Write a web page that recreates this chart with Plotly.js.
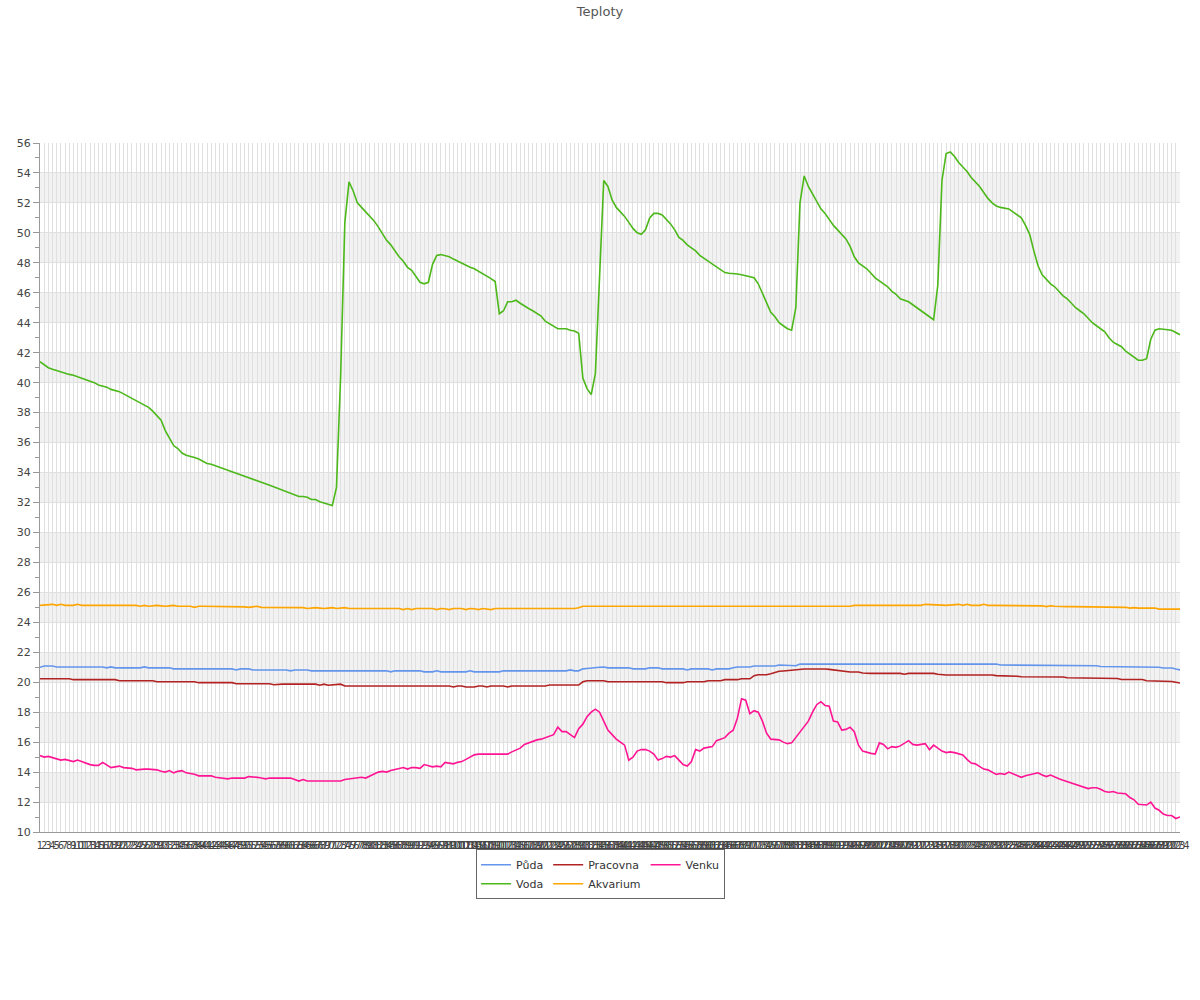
<!DOCTYPE html>
<html>
<head>
<meta charset="utf-8">
<script src="https://cdn.plot.ly/plotly-3.0.1.min.js"></script>
<style>html,body{margin:0;padding:0;background:#fff;}#chart{width:1200px;height:1000px;}</style>
</head>
<body>
<div id="chart"></div>
<script>
var categories = [
1,2,3,4,5,6,7,8,9,10,11,12,13,14,15,16,17,18,19,20,
21,22,23,24,25,26,27,28,29,30,31,32,33,34,35,36,37,38,39,40,
41,42,43,44,45,46,47,48,49,50,51,52,53,54,55,56,57,58,59,60,
61,62,63,64,65,66,67,68,69,70,71,72,73,74,75,76,77,78,79,80,
81,82,83,84,85,86,87,88,89,90,91,92,93,94,95,96,97,98,99,100,
101,102,103,104,105,106,107,108,109,110,111,112,113,114,115,116,117,118,119,120,
121,122,123,124,125,126,127,128,129,130,131,132,133,134,135,136,137,138,139,140,
141,142,143,144,145,146,147,148,149,150,151,152,153,154,155,156,157,158,159,160,
161,162,163,164,165,166,167,168,169,170,171,172,173,174,175,176,177,178,179,180,
181,182,183,184,185,186,187,188,189,190,191,192,193,194,195,196,197,198,199,200,
201,202,203,204,205,206,207,208,209,210,211,212,213,214,215,216,217,218,219,220,
221,222,223,224,225,226,227,228,229,230,231,232,233,234,235,236,237,238,239,240,
241,242,243,244,245,246,247,248,249,250,251,252,253,254,255,256,257,258,259,260,
261,262,263,264,265,266,267,268,269,270,271,272,273,274
].map(String);

var puda = [
21.0,21.08,21.08,21.08,21.02,21.02,21.02,21.02,21.02,21.02,
21.02,21.02,21.02,21.02,21.02,21.02,20.96,21.02,20.96,20.96,
20.96,20.96,20.96,20.96,20.96,21.02,20.96,20.96,20.96,20.96,
20.96,20.96,20.89,20.89,20.89,20.89,20.89,20.89,20.89,20.89,
20.89,20.89,20.89,20.89,20.89,20.89,20.89,20.82,20.89,20.89,
20.89,20.82,20.82,20.82,20.82,20.82,20.82,20.82,20.82,20.82,
20.76,20.82,20.82,20.82,20.82,20.76,20.76,20.76,20.76,20.76,
20.76,20.76,20.76,20.76,20.76,20.76,20.76,20.76,20.76,20.76,
20.76,20.76,20.76,20.76,20.69,20.76,20.76,20.76,20.76,20.76,
20.76,20.76,20.69,20.69,20.69,20.76,20.69,20.69,20.69,20.69,
20.69,20.69,20.69,20.76,20.69,20.69,20.69,20.69,20.69,20.69,
20.69,20.76,20.76,20.76,20.76,20.76,20.76,20.76,20.76,20.76,
20.76,20.76,20.76,20.76,20.76,20.76,20.76,20.82,20.76,20.76,
20.89,20.92,20.96,20.99,21.0,21.02,20.96,20.96,20.96,20.96,
20.96,20.96,20.89,20.89,20.89,20.89,20.96,20.96,20.96,20.89,
20.89,20.89,20.89,20.89,20.89,20.82,20.89,20.89,20.89,20.89,
20.89,20.82,20.89,20.89,20.89,20.89,20.96,21.02,21.02,21.02,
21.02,21.08,21.08,21.08,21.08,21.08,21.08,21.15,21.15,21.1,
21.1,21.1,21.21,21.21,21.21,21.21,21.21,21.21,21.21,21.21,
21.21,21.21,21.21,21.21,21.21,21.21,21.21,21.21,21.21,21.21,
21.21,21.21,21.21,21.21,21.21,21.21,21.21,21.21,21.21,21.21,
21.21,21.21,21.21,21.21,21.21,21.21,21.21,21.21,21.21,21.21,
21.21,21.21,21.21,21.21,21.21,21.21,21.21,21.21,21.21,21.21,
21.15,21.15,21.15,21.15,21.15,21.15,21.15,21.15,21.15,21.15,
21.15,21.15,21.15,21.15,21.15,21.1,21.1,21.1,21.1,21.1,
21.1,21.1,21.1,21.1,21.05,21.05,21.05,21.05,21.05,21.05,
21.05,21.05,21.0,21.0,21.0,21.0,21.0,21.0,21.0,20.95,
20.95,20.95,20.88,20.82
];

var voda = [
41.4,41.2,41.0,40.9,40.8,40.7,40.6,40.55,40.5,40.4,
40.3,40.2,40.15,40.0,39.85,39.8,39.7,39.55,39.5,39.4,
39.25,39.1,38.95,38.8,38.6,38.45,38.35,38.1,37.8,37.5,
36.8,36.3,35.8,35.6,35.3,35.15,35.1,35.0,34.9,34.75,
34.6,34.55,34.45,34.3,34.2,34.1,34.0,33.9,33.8,33.7,
33.6,33.5,33.45,33.35,33.25,33.15,33.05,32.95,32.8,32.75,
32.65,32.5,32.4,32.4,32.35,32.2,32.2,32.05,31.95,31.85,
31.8,33.0,40.5,50.7,53.4,52.8,52.0,51.7,51.4,51.1,
50.8,50.4,49.9,49.5,49.2,48.8,48.4,48.1,47.7,47.5,
47.1,46.7,46.6,46.7,47.9,48.5,48.55,48.5,48.4,48.25,
48.1,47.95,47.85,47.7,47.6,47.45,47.3,47.15,46.95,46.75,
44.6,44.8,45.4,45.4,45.5,45.3,45.1,44.95,44.8,44.6,
44.45,44.1,43.95,43.75,43.6,43.6,43.6,43.5,43.45,43.3,
40.3,39.6,39.2,40.6,47.0,53.5,53.1,52.2,51.7,51.4,
51.1,50.7,50.3,50.0,49.9,50.2,51.0,51.3,51.3,51.2,
50.9,50.6,50.2,49.7,49.5,49.2,49.0,48.8,48.5,48.3,
48.1,47.9,47.7,47.5,47.35,47.3,47.3,47.25,47.2,47.15,
47.1,47.0,46.6,46.0,45.3,44.7,44.4,44.0,43.8,43.6,
43.5,45.0,52.0,53.8,53.1,52.6,52.1,51.6,51.3,50.9,
50.5,50.2,49.9,49.6,49.1,48.4,48.0,47.8,47.6,47.3,
47.0,46.8,46.6,46.4,46.1,45.9,45.6,45.5,45.4,45.2,
45.0,44.8,44.6,44.4,44.2,46.5,53.5,55.3,55.4,55.1,
54.7,54.4,54.1,53.7,53.4,53.1,52.7,52.3,52.0,51.8,
51.7,51.65,51.6,51.4,51.2,51.0,50.5,49.9,48.8,47.8,
47.2,46.9,46.6,46.4,46.1,45.8,45.6,45.3,45.0,44.8,
44.6,44.3,44.0,43.8,43.6,43.4,43.0,42.7,42.55,42.4,
42.1,41.9,41.7,41.5,41.5,41.6,42.9,43.5,43.6,43.55,
43.55,43.5,43.35,43.2
];

var pracovna = [
20.23,20.23,20.23,20.23,20.23,20.23,20.23,20.23,20.17,20.17,
20.17,20.17,20.17,20.17,20.17,20.17,20.17,20.17,20.17,20.1,
20.1,20.1,20.1,20.1,20.1,20.1,20.1,20.1,20.03,20.03,
20.03,20.03,20.03,20.03,20.03,20.03,20.03,20.03,19.97,19.97,
19.97,19.97,19.97,19.97,19.97,19.97,19.97,19.9,19.9,19.9,
19.9,19.9,19.9,19.9,19.9,19.9,19.83,19.87,19.87,19.87,
19.87,19.87,19.87,19.87,19.87,19.87,19.87,19.8,19.87,19.8,
19.82,19.82,19.87,19.75,19.75,19.75,19.75,19.75,19.75,19.75,
19.75,19.75,19.75,19.75,19.75,19.75,19.75,19.75,19.75,19.75,
19.75,19.75,19.75,19.75,19.75,19.71,19.75,19.75,19.75,19.68,
19.75,19.75,19.68,19.68,19.68,19.75,19.75,19.68,19.75,19.75,
19.75,19.75,19.68,19.75,19.75,19.75,19.75,19.75,19.75,19.75,
19.75,19.75,19.81,19.81,19.81,19.81,19.81,19.81,19.81,19.81,
20.03,20.1,20.1,20.1,20.1,20.1,20.03,20.03,20.03,20.03,
20.03,20.03,20.03,20.03,20.03,20.03,20.03,20.03,20.03,20.03,
19.97,19.97,19.97,19.97,19.97,20.03,20.03,20.03,20.03,20.03,
20.1,20.1,20.1,20.1,20.17,20.17,20.17,20.17,20.23,20.23,
20.23,20.44,20.5,20.5,20.5,20.57,20.65,20.73,20.75,20.78,
20.81,20.84,20.88,20.88,20.88,20.88,20.92,20.9,20.88,20.86,
20.82,20.78,20.75,20.7,20.68,20.68,20.68,20.62,20.59,20.59,
20.59,20.59,20.59,20.59,20.59,20.59,20.59,20.53,20.59,20.59,
20.59,20.59,20.59,20.59,20.59,20.53,20.48,20.48,20.48,20.48,
20.48,20.48,20.48,20.48,20.48,20.48,20.48,20.53,20.48,20.44,
20.44,20.44,20.44,20.4,20.4,20.37,20.37,20.37,20.35,20.35,
20.35,20.35,20.35,20.35,20.35,20.35,20.3,20.3,20.3,20.3,
20.3,20.3,20.3,20.25,20.25,20.25,20.25,20.25,20.25,20.18,
20.18,20.18,20.18,20.18,20.18,20.1,20.1,20.1,20.1,20.1,
20.1,20.05,20.0,19.95
];

var akvarium = [
25.13,25.16,25.2,25.2,25.13,25.2,25.13,25.13,25.13,25.2,
25.13,25.13,25.13,25.13,25.13,25.13,25.13,25.13,25.13,25.13,
25.13,25.13,25.13,25.13,25.07,25.13,25.07,25.1,25.13,25.1,
25.07,25.1,25.13,25.07,25.07,25.07,25.07,25.0,25.07,25.07,
25.07,25.07,25.07,25.07,25.07,25.07,25.07,25.07,25.07,25.03,
25.0,25.03,25.07,25.0,25.0,25.0,25.0,24.99,24.98,24.98,
24.98,24.98,24.98,24.98,24.92,24.95,24.98,24.95,24.92,24.95,
24.98,24.92,24.95,24.98,24.92,24.92,24.92,24.92,24.92,24.92,
24.92,24.92,24.92,24.92,24.92,24.92,24.92,24.85,24.92,24.85,
24.92,24.92,24.92,24.92,24.92,24.85,24.92,24.9,24.85,24.92,
24.92,24.92,24.85,24.92,24.9,24.85,24.92,24.9,24.85,24.92,
24.92,24.92,24.92,24.92,24.92,24.92,24.92,24.92,24.92,24.92,
24.92,24.92,24.92,24.9,24.88,24.92,24.9,24.88,24.92,24.97,
25.07,25.07,25.07,25.07,25.07,25.07,25.07,25.07,25.07,25.07,
25.07,25.07,25.07,25.07,25.07,25.07,25.07,25.07,25.07,25.07,
25.07,25.07,25.07,25.07,25.07,25.07,25.07,25.07,25.07,25.07,
25.07,25.07,25.07,25.07,25.07,25.07,25.07,25.07,25.07,25.07,
25.07,25.07,25.07,25.07,25.07,25.07,25.07,25.07,25.07,25.07,
25.07,25.07,25.07,25.07,25.07,25.07,25.11,25.07,25.09,25.07,
25.11,25.07,25.11,25.09,25.07,25.13,25.13,25.13,25.13,25.13,
25.13,25.13,25.13,25.13,25.13,25.13,25.13,25.13,25.13,25.13,
25.13,25.13,25.2,25.2,25.2,25.2,25.15,25.13,25.17,25.2,
25.2,25.13,25.2,25.13,25.13,25.13,25.2,25.13,25.13,25.13,
25.13,25.13,25.13,25.13,25.13,25.13,25.13,25.13,25.1,25.1,
25.1,25.05,25.1,25.07,25.05,25.05,25.05,25.05,25.05,25.05,
25.0,25.05,25.0,25.0,25.0,25.0,25.0,25.0,25.0,25.0,
25.0,24.95,24.98,24.95,24.95,24.95,24.95,24.95,24.88,24.88,
24.88,24.88,24.88,24.88
];

var venku = [
15.1,15.0,15.05,14.95,14.85,14.8,14.85,14.75,14.7,14.8,
14.7,14.55,14.5,14.45,14.45,14.65,14.5,14.3,14.35,14.4,
14.3,14.3,14.25,14.15,14.2,14.2,14.2,14.2,14.15,14.05,
14.0,14.1,13.95,14.05,14.1,13.95,13.9,13.85,13.75,13.75,
13.7,13.75,13.65,13.6,13.6,13.55,13.6,13.6,13.6,13.6,
13.7,13.7,13.65,13.6,13.55,13.6,13.6,13.65,13.6,13.6,
13.6,13.5,13.4,13.5,13.4,13.4,13.4,13.35,13.35,13.4,
13.4,13.4,13.4,13.5,13.55,13.55,13.6,13.65,13.6,13.75,
13.9,14.0,14.05,14.0,14.1,14.15,14.2,14.3,14.2,14.3,
14.3,14.25,14.5,14.4,14.35,14.4,14.35,14.65,14.6,14.55,
14.65,14.7,14.85,15.0,15.15,15.2,15.2,15.2,15.15,15.2,
15.2,15.2,15.2,15.35,15.45,15.6,15.85,15.95,16.1,16.15,
16.2,16.3,16.4,16.5,17.0,16.7,16.7,16.5,16.3,16.9,
17.2,17.7,18.0,18.2,18.0,17.4,16.8,16.5,16.2,16.0,
15.8,14.8,15.0,15.4,15.5,15.5,15.4,15.2,14.8,14.9,
15.05,15.0,15.1,14.8,14.5,14.4,14.7,15.5,15.4,15.6,
15.65,15.7,16.1,16.2,16.3,16.6,16.8,17.6,18.9,18.8,
17.9,18.1,18.0,17.4,16.6,16.2,16.2,16.15,16.0,15.9,
15.95,16.3,16.7,17.0,17.4,18.0,18.5,18.7,18.45,18.4,
17.4,17.35,16.8,16.85,17.0,16.7,15.8,15.4,15.3,15.25,
15.2,15.95,15.85,15.55,15.7,15.65,15.75,15.9,16.1,15.85,
15.8,15.85,15.9,15.5,15.8,15.6,15.4,15.3,15.35,15.3,
15.25,15.15,14.85,14.6,14.55,14.4,14.2,14.15,14.0,13.85,
13.9,13.85,14.0,13.9,13.8,13.65,13.75,13.8,13.85,13.95,
13.8,13.7,13.8,13.65,13.55,13.45,13.35,13.3,13.2,13.1,
12.95,12.9,12.95,12.95,12.85,12.7,12.65,12.7,12.6,12.6,
12.55,12.3,12.15,11.85,11.8,11.8,12.0,11.6,11.45,11.2,
11.1,11.1,10.9,11.0
];

var seriesNames = ['Půda', 'Voda', 'Pracovna', 'Akvarium', 'Venku'];
var seriesColors = ['#6495ed', '#4cb81a', '#b22222', '#ffa500', '#ff1493'];
var seriesGroups = ['a', 'a', 'b', 'b', 'c'];
var seriesData = [puda, voda, pracovna, akvarium, venku];

var traces = seriesData.map(function (ys, k) {
  return {
    type: 'scatter',
    mode: 'lines',
    name: seriesNames[k],
    x: categories,
    y: ys,
    legendgroup: seriesGroups[k],
    line: {color: seriesColors[k], width: 1.6}
  };
});

var yMin = 10, yMax = 56, yStep = 2;
var shapes = [];
for (var v = yMin + yStep; v < yMax; v += 2 * yStep) {
  shapes.push({
    type: 'rect', xref: 'paper', yref: 'y', x0: 0, x1: 1, y0: v, y1: v + yStep,
    fillcolor: '#f2f2f2', line: {width: 0}, layer: 'below'
  });
}

var font = 'DejaVu Sans, sans-serif';
var layout = {
  width: 1200, height: 1000,
  margin: {l: 40, r: 20, t: 143, b: 168, pad: 0},
  paper_bgcolor: '#ffffff', plot_bgcolor: '#ffffff',
  font: {family: font, size: 11, color: '#444'},
  title: {text: 'Teploty', x: 0.5, xref: 'container', xanchor: 'center',
          y: 0.989, yref: 'container', yanchor: 'middle',
          font: {family: font, size: 13, color: '#555'}},
  showlegend: true,
  legend: {
    orientation: 'h', traceorder: 'grouped',
    x: 0.4917, xanchor: 'center', y: -0.025, yanchor: 'top',
    bordercolor: '#666', borderwidth: 1, bgcolor: '#ffffff',
    font: {family: font, size: 11, color: '#333'},
    tracegroupgap: 0
  },
  xaxis: {
    type: 'category', range: [0, categories.length - 1],
    tickmode: 'linear', tick0: 0, dtick: 1, tickangle: 0,
    showgrid: true, gridcolor: '#e0e0e0', gridwidth: 1,
    showline: true, linecolor: '#999', linewidth: 1,
    ticks: '', zeroline: false, automargin: false,
    ticklabelstandoff: 4,
    tickfont: {family: font, size: 10, color: '#444'}
  },
  yaxis: {
    range: [yMin, yMax], tickmode: 'linear', tick0: yMin, dtick: yStep,
    ticks: 'outside', ticklen: 6, tickcolor: '#999', tickwidth: 1,
    showline: true, linecolor: '#999', linewidth: 1,
    showgrid: true, gridcolor: '#e0e0e0', gridwidth: 1, zeroline: false,
    automargin: false,
    tickfont: {family: font, size: 11, color: '#444'},
    minor: {dtick: 1, ticks: 'outside', ticklen: 4, tickcolor: '#999', showgrid: false}
  },
  shapes: shapes
};

Plotly.newPlot('chart', traces, layout, {displayModeBar: false, responsive: false});
</script>
</body>
</html>
